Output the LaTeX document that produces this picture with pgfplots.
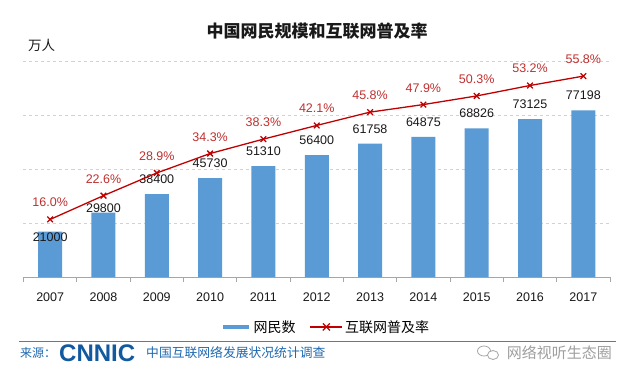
\documentclass[border=0pt]{standalone}
\usepackage{fontspec}
\setmainfont{Liberation Sans}
\newfontfamily\cjk{Noto Sans CJK SC}
\usepackage{pgfplots}
\usepackage{pgfplotstable}
\pgfplotsset{compat=1.18}
\definecolor{barblue}{RGB}{91,155,213}
\definecolor{linered}{RGB}{192,0,0}
\definecolor{labred}{RGB}{192,48,48}
\definecolor{srcblue}{RGB}{31,105,176}
\definecolor{logoblue}{RGB}{18,90,160}

\pgfplotstableread{
year users ulab udy
2007 21000 21000 -9.5
2008 29800 29800 0.5
2009 38400 38400 10.5
2010 45730 45730 10.5
2011 51310 51310 10.5
2012 56400 56400 10.5
2013 61758 61758 10.5
2014 64875 64875 10.5
2015 68826 68826 10.5
2016 73125 73125 10.5
2017 77198 77198 10.5
}\users

\pgfplotstableread{
year rate rlab
2007 16.0 16.0
2008 22.6 22.6
2009 28.9 28.9
2010 34.3 34.3
2011 38.3 38.3
2012 42.1 42.1
2013 45.8 45.8
2014 47.9 47.9
2015 50.3 50.3
2016 53.2 53.2
2017 55.8 55.8
}\rates

\begin{document}
\begin{tikzpicture}[x=1pt,y=1pt]
\path[use as bounding box] (0,0) rectangle (630,381);
\fill[white] (0,0) rectangle (630,381);

\begin{axis}[at={(23.5pt,104pt)}, anchor=south west, scale only axis,
  width=586.5pt, height=216pt,
  xmin=2006.5, xmax=2017.5, ymin=0, ymax=100000,
  scaled y ticks=false,
  axis x line*=bottom, axis y line*=left,
  y axis line style={draw=none},
  x axis line style={gray!70, line width=0.8pt},
  xtick={2007,2008,2009,2010,2011,2012,2013,2014,2015,2016,2017},
  xticklabels={2007,2008,2009,2010,2011,2012,2013,2014,2015,2016,2017},
  minor xtick={2006.5,2007.5,2008.5,2009.5,2010.5,2011.5,2012.5,2013.5,2014.5,2015.5,2016.5,2017.5},
  major tick length=0pt, minor tick length=5pt, tick align=outside,
  xtick style={gray!70, line width=0.8pt},
  ytick={25000,50000,75000,100000}, yticklabels={}, ytick style={draw=none},
  ymajorgrids, grid style={dashed, gray!35, line width=0.6pt},
  xticklabel style={font=\fontsize{12.5}{14}\selectfont, text=black!90, yshift=-12pt},
  clip=false,
]
\addplot[ybar, bar width=24pt, fill=barblue, draw=none,
  nodes near coords, point meta=explicit symbolic,
  visualization depends on={\thisrow{udy} \as \udy},
  every node near coord/.append style={anchor=base, yshift=\udy pt, inner sep=0pt,
     font=\fontsize{12.5}{14}\selectfont, text=black!90}]
  table[x=year, y=users, meta=ulab]{\users};
\end{axis}

\begin{axis}[at={(23.5pt,104pt)}, anchor=south west, scale only axis,
  width=586.5pt, height=216pt,
  xmin=2006.5, xmax=2017.5, ymin=0, ymax=60,
  hide axis, clip=false,
  legend style={at={(0.516,-0.231)}, anchor=center, draw=none, fill=none,
    legend columns=2, font=\cjk\fontsize{14}{16}\selectfont,
    /tikz/every even column/.append style={column sep=12pt}},
  legend cell align=left,
]
\addlegendimage{legend image code/.code={\draw[barblue, line width=4.5pt] (0pt,0pt) -- (26pt,0pt);}}
\addlegendentry{网民数}
\addlegendimage{legend image code/.code={\draw[linered, line width=1.3pt] (0pt,0pt) -- (32pt,0pt); \draw[linered, line width=1.3pt] (12.5pt,-3.5pt) -- (19.5pt,3.5pt) (12.5pt,3.5pt) -- (19.5pt,-3.5pt);}}
\addlegendentry{互联网普及率}
\addplot[linered, line width=1.3pt, mark=x, mark size=4pt,
  mark options={line width=1.3pt}, forget plot,
  nodes near coords={\pgfplotspointmeta\%}, point meta=explicit symbolic,
  every node near coord/.append style={anchor=base, yshift=12.5pt, inner sep=0pt,
     font=\fontsize{12.5}{14}\selectfont, text=labred}]
  table[x=year, y=rate, meta=rlab]{\rates};
\end{axis}

\node[font=\cjk\bfseries\fontsize{17}{20}\selectfont, text=black!90] at (317,350) {中国网民规模和互联网普及率};
\node[font=\cjk\fontsize{13.5}{16}\selectfont, anchor=west, inner sep=0pt, text=black!90] at (28,336) {万人};

\draw[srcblue!85, line width=1pt] (19,40) -- (616,40);
\node[anchor=west, inner sep=0pt, font=\cjk\fontsize{12}{14}\selectfont, text=srcblue] at (20,28) {来源：};
\node[anchor=west, inner sep=0pt, font=\bfseries\fontsize{24}{26}\selectfont, text=logoblue] at (59,28) {CNNIC};
\node[anchor=west, inner sep=0pt, font=\cjk\fontsize{12.8}{14}\selectfont, text=srcblue] at (146,28) {中国互联网络发展状况统计调查};
\draw[gray!70, line width=0.8pt] (484,30) ellipse (6.5pt and 5pt);
\draw[gray!70, line width=0.8pt, fill=white] (493,26) ellipse (5.5pt and 4.5pt);
\node[anchor=east, inner sep=0pt, font=\cjk\fontsize{15}{17}\selectfont, text=gray!75] at (612,28) {网络视听生态圈};
\end{tikzpicture}
\end{document}
